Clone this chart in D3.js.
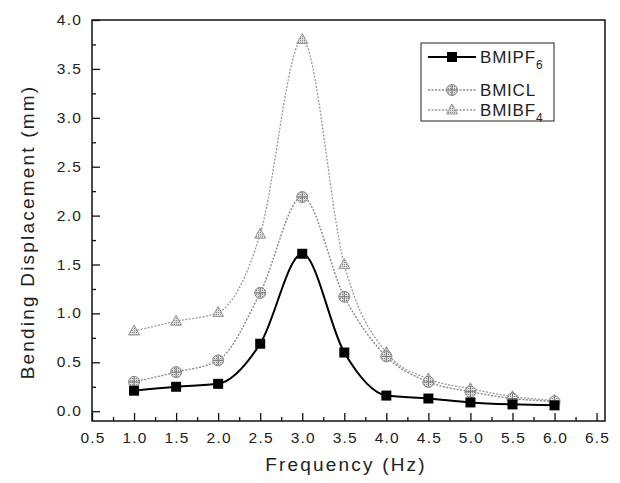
<!DOCTYPE html>
<html>
<head>
<meta charset="utf-8">
<script src="https://cdn.jsdelivr.net/npm/d3@7"></script>
<style>
  body { margin: 0; background: #fff; }
  text { font-family: "Liberation Sans", Arial, sans-serif; fill: #222; }
</style>
</head>
<body>
<svg id="chart" width="620" height="483"></svg>
<script>
// data
let freq = [1.0, 1.5, 2.0, 2.5, 3.0, 3.5, 4.0, 4.5, 5.0, 5.5, 6.0];
let pf6  = [0.21, 0.25, 0.28, 0.69, 1.61, 0.60, 0.16, 0.13, 0.09, 0.07, 0.06];
let cl   = [0.30, 0.40, 0.52, 1.21, 2.19, 1.17, 0.56, 0.30, 0.20, 0.13, 0.10];
let bf4  = [0.82, 0.92, 1.01, 1.81, 3.80, 1.50, 0.60, 0.33, 0.23, 0.15, 0.11];
let xTicks = [0.5, 1.0, 1.5, 2.0, 2.5, 3.0, 3.5, 4.0, 4.5, 5.0, 5.5, 6.0, 6.5];
let yTicks = [0.0, 0.5, 1.0, 1.5, 2.0, 2.5, 3.0, 3.5, 4.0];

const svg = d3.select("#chart");
const pL = 92, pR = 605, pT = 20, pB = 421;

const x = d3.scaleLinear().domain([0.5, 6.6]).range([pL, pR]);
const y = d3.scaleLinear().domain([-0.1, 4.0]).range([pB, pT]);

// minor ticks halfway
let xMinor = d3.range(0.75, 6.6, 0.5);
let yMinor = d3.range(0.25, 4.0, 0.5);

// axes, ticks pointing inward
svg.append("g")
  .attr("transform", `translate(0,${pB})`)
  .call(d3.axisTop(x).tickValues(xTicks).tickSize(8).tickFormat(""))
  .call(g => g.select(".domain").remove());
svg.append("g")
  .attr("transform", `translate(0,${pB})`)
  .call(d3.axisTop(x).tickValues(xMinor).tickSize(4).tickFormat(""))
  .call(g => g.select(".domain").remove());
svg.append("g")
  .attr("transform", `translate(${pL},0)`)
  .call(d3.axisRight(y).tickValues(yTicks).tickSize(8).tickFormat(""))
  .call(g => g.select(".domain").remove());
svg.append("g")
  .attr("transform", `translate(${pL},0)`)
  .call(d3.axisRight(y).tickValues(yMinor).tickSize(4).tickFormat(""))
  .call(g => g.select(".domain").remove());
svg.selectAll(".tick line").attr("stroke", "#111").attr("stroke-width", 1.3);

svg.append("rect")
  .attr("x", pL).attr("y", pT)
  .attr("width", pR - pL).attr("height", pB - pT)
  .attr("fill", "none").attr("stroke", "#111").attr("stroke-width", 1.5);

// tick labels
svg.append("g").selectAll("text").data(xTicks).enter().append("text")
  .attr("x", d => x(d) + 1).attr("y", pB + 22)
  .attr("text-anchor", "middle").attr("font-size", 15.5).attr("letter-spacing", 1.2)
  .text(d => d.toFixed(1));
svg.append("g").selectAll("text").data(yTicks).enter().append("text")
  .attr("x", pL - 10).attr("y", d => y(d) + 5)
  .attr("text-anchor", "end").attr("font-size", 15.5).attr("letter-spacing", 1.2)
  .text(d => d.toFixed(1));

svg.append("text")
  .attr("x", 346).attr("y", 471)
  .attr("text-anchor", "middle").attr("font-size", 19).attr("letter-spacing", 2.2)
  .text("Frequency (Hz)");
svg.append("text")
  .attr("transform", "translate(34,232) rotate(-90)")
  .attr("text-anchor", "middle").attr("font-size", 19).attr("letter-spacing", 2.2)
  .text("Bending Displacement (mm)");

// pattern for the hatched grey markers
const defs = svg.append("defs");
defs.append("pattern").attr("id", "hatch")
  .attr("width", 2).attr("height", 2).attr("patternUnits", "userSpaceOnUse")
  .call(p => {
    p.append("rect").attr("width", 2).attr("height", 2).attr("fill", "#ddd");
    p.append("rect").attr("width", 1).attr("height", 1).attr("fill", "#888");
  });

const line = d3.line().curve(d3.curveMonotoneX).x(d => x(d[0])).y(d => y(d[1]));

let series = [
  { name: "BMIPF", sub: "6", vals: pf6, stroke: "#000", width: 2, dash: null, shape: "square" },
  { name: "BMICL", sub: "",  vals: cl,  stroke: "#888", width: 1.4, dash: "2,1.5", shape: "circle" },
  { name: "BMIBF", sub: "4", vals: bf4, stroke: "#999", width: 1.3, dash: "2,1.5", shape: "triangle" }
];

function drawMarker(g, s, px, py) {
  if (s.shape === "square") {
    g.append("rect").attr("x", px - 5).attr("y", py - 5).attr("width", 10).attr("height", 10)
      .attr("fill", "#000");
  } else if (s.shape === "circle") {
    g.append("circle").attr("cx", px).attr("cy", py).attr("r", 5.5)
      .attr("fill", "url(#hatch)").attr("stroke", "#888").attr("stroke-width", 1);
    g.append("path").attr("d", `M${px - 5},${py}H${px + 5}M${px},${py - 5}V${py + 5}`)
      .attr("stroke", "#777").attr("stroke-width", 1);
  } else {
    g.append("path").attr("d", `M${px},${py - 6}L${px + 5.5},${py + 4}L${px - 5.5},${py + 4}Z`)
      .attr("fill", "url(#hatch)").attr("stroke", "#999").attr("stroke-width", 1);
  }
}

// draw grey ones first so black sits on top
series.slice().reverse().forEach(s => {
  let pts = freq.map((f, i) => [f, s.vals[i]]);
  svg.append("path").datum(pts)
    .attr("d", line)
    .attr("fill", "none").attr("stroke", s.stroke)
    .attr("stroke-width", s.width).attr("stroke-dasharray", s.dash);
  let g = svg.append("g");
  pts.forEach(p => drawMarker(g, s, x(p[0]), y(p[1])));
});

// legend
const lg = svg.append("g");
lg.append("rect").attr("x", 421).attr("y", 43).attr("width", 133).attr("height", 78)
  .attr("fill", "#fff").attr("stroke", "#222").attr("stroke-width", 1);
let legY = [57, 90, 110];
series.forEach((s, i) => {
  let ly = legY[i];
  lg.append("line").attr("x1", 428).attr("x2", 476).attr("y1", ly).attr("y2", ly)
    .attr("stroke", s.stroke).attr("stroke-width", s.width).attr("stroke-dasharray", s.dash);
  drawMarker(lg, s, 452, ly);
  let t = lg.append("text").attr("x", 480).attr("y", ly + 6).attr("font-size", 17).attr("letter-spacing", 0.8);
  t.append("tspan").text(s.name);
  if (s.sub) t.append("tspan").attr("dy", 6).attr("font-size", 12).text(s.sub);
});
</script>
</body>
</html>
